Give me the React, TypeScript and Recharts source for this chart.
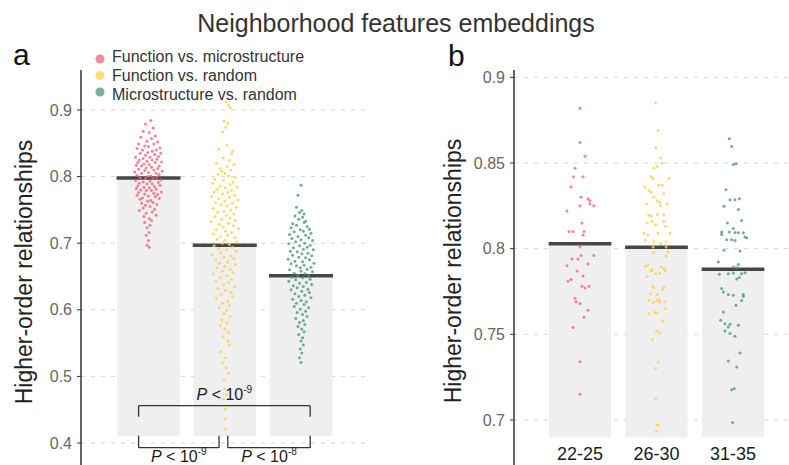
import {
  ComposedChart, Scatter, XAxis, YAxis, CartesianGrid, ReferenceArea, ReferenceLine,
} from "recharts";

const FONT = '"Liberation Sans", Arial, Helvetica, sans-serif';

const comparisonNames = ["Function vs. microstructure", "Function vs. random", "Microstructure vs. random"];
const seriesColors = ["#f2637b", "#fbd14c", "#4c9878"];
const ageGroups = ["22-25", "26-30", "31-35"];

const meansA = [0.798, 0.697, 0.651];
const meansB = [0.8029, 0.8008, 0.788];
const barBaseA = 0.41;
const barBaseB = 0.6897;
const ticksA = [0.4, 0.5, 0.6, 0.7, 0.8, 0.9];
const ticksB = [0.7, 0.75, 0.8, 0.85, 0.9];

// [jitter offset from category centre, value]
const pointsA1 = [
  [0.03, 0.884], [-0.04, 0.879], [0.06, 0.873], [-0.07, 0.868], [0.01, 0.866], [0.09, 0.861], [-0.1, 0.859], [0.04, 0.857],
  [-0.02, 0.853], [0.12, 0.852], [-0.13, 0.849], [0.07, 0.849], [-0.05, 0.846], [0.0, 0.845], [0.15, 0.843], [-0.15, 0.842],
  [0.1, 0.84], [-0.08, 0.84], [0.05, 0.838], [-0.01, 0.836], [0.16, 0.835], [-0.11, 0.835], [0.08, 0.833], [-0.04, 0.832],
  [0.13, 0.83], [-0.17, 0.829], [0.02, 0.829], [-0.07, 0.827], [0.11, 0.826], [-0.12, 0.825], [0.05, 0.825], [-0.02, 0.823],
  [0.17, 0.822], [-0.14, 0.821], [0.09, 0.821], [-0.06, 0.819], [0.01, 0.818], [-0.16, 0.817], [0.14, 0.816], [-0.09, 0.816],
  [0.04, 0.814], [-0.03, 0.813], [0.12, 0.812], [-0.13, 0.811], [0.07, 0.81], [-0.05, 0.809], [0.18, 0.808], [-0.18, 0.807],
  [0.0, 0.806], [0.1, 0.805], [-0.09, 0.805], [0.14, 0.803], [-0.15, 0.802], [0.03, 0.801], [-0.01, 0.8], [0.11, 0.799],
  [-0.11, 0.798], [0.06, 0.797], [-0.04, 0.797], [0.16, 0.795], [-0.17, 0.794], [0.02, 0.793], [-0.07, 0.792], [0.13, 0.791],
  [-0.12, 0.79], [0.05, 0.789], [-0.02, 0.789], [0.15, 0.787], [-0.14, 0.786], [0.08, 0.785], [-0.06, 0.784], [0.01, 0.783],
  [-0.16, 0.782], [0.1, 0.781], [-0.1, 0.78], [0.04, 0.779], [-0.03, 0.779], [0.17, 0.777], [-0.13, 0.776], [0.07, 0.775],
  [-0.05, 0.774], [0.12, 0.773], [-0.15, 0.772], [0.0, 0.771], [0.09, 0.77], [-0.08, 0.768], [0.14, 0.767], [-0.11, 0.766],
  [0.03, 0.764], [-0.01, 0.763], [0.06, 0.761], [-0.09, 0.76], [0.11, 0.758], [-0.04, 0.757], [0.02, 0.755], [-0.07, 0.753],
  [0.08, 0.751], [-0.12, 0.749], [0.05, 0.747], [-0.03, 0.745], [0.1, 0.742], [-0.06, 0.74], [0.01, 0.737], [0.04, 0.734],
  [-0.05, 0.731], [0.02, 0.727], [-0.02, 0.723], [0.01, 0.716], [-0.03, 0.712], [0.0, 0.704], [-0.02, 0.697], [0.01, 0.694],
];

const pointsA2 = [
  [0.02, 0.912], [0.05, 0.907], [0.07, 0.903], [-0.01, 0.883], [0.04, 0.88], [0.01, 0.874], [-0.03, 0.867], [0.03, 0.847],
  [-0.08, 0.841], [0.1, 0.838], [0.09, 0.834], [-0.02, 0.828], [0.06, 0.824], [-0.11, 0.82], [0.12, 0.818], [0.03, 0.815],
  [-0.06, 0.812], [0.08, 0.81], [-0.04, 0.808], [0.0, 0.805], [-0.09, 0.803], [0.05, 0.801], [0.14, 0.799], [-0.13, 0.796],
  [-0.02, 0.794], [0.11, 0.792], [-0.16, 0.79], [0.07, 0.788], [-0.06, 0.786], [0.16, 0.784], [0.01, 0.783], [-0.1, 0.781],
  [0.09, 0.779], [-0.14, 0.777], [0.04, 0.776], [-0.03, 0.774], [0.13, 0.772], [-0.17, 0.77], [0.06, 0.769], [-0.08, 0.767],
  [0.17, 0.765], [0.0, 0.763], [-0.12, 0.761], [0.1, 0.76], [-0.05, 0.758], [0.03, 0.756], [0.15, 0.754], [-0.15, 0.752],
  [0.08, 0.75], [-0.01, 0.748], [-0.09, 0.746], [0.12, 0.744], [0.02, 0.742], [-0.13, 0.74], [0.07, 0.738], [-0.04, 0.736],
  [0.14, 0.734], [-0.18, 0.732], [0.05, 0.73], [-0.07, 0.728], [0.11, 0.726], [-0.02, 0.724], [0.18, 0.722], [-0.11, 0.72],
  [0.01, 0.718], [0.09, 0.716], [-0.15, 0.714], [0.04, 0.712], [-0.06, 0.71], [0.13, 0.708], [-0.1, 0.706], [0.0, 0.704],
  [0.16, 0.702], [-0.03, 0.7], [0.06, 0.698], [-0.14, 0.696], [0.1, 0.694], [-0.08, 0.692], [0.02, 0.69], [0.15, 0.688],
  [-0.05, 0.686], [-0.17, 0.683], [0.08, 0.681], [-0.01, 0.679], [0.12, 0.677], [-0.12, 0.675], [0.04, 0.672], [-0.07, 0.67],
  [0.14, 0.668], [0.0, 0.665], [-0.1, 0.663], [0.07, 0.661], [-0.03, 0.658], [0.11, 0.656], [-0.15, 0.654], [0.03, 0.651],
  [-0.06, 0.648], [0.09, 0.646], [-0.12, 0.643], [0.05, 0.641], [-0.02, 0.638], [0.13, 0.635], [-0.09, 0.632], [0.01, 0.629],
  [0.08, 0.626], [-0.05, 0.623], [0.1, 0.62], [-0.11, 0.617], [0.04, 0.613], [-0.03, 0.61], [0.06, 0.606], [-0.07, 0.603],
  [0.02, 0.599], [-0.01, 0.594], [0.07, 0.59], [-0.04, 0.585], [0.03, 0.58], [-0.06, 0.576], [0.0, 0.571], [0.05, 0.566],
  [-0.02, 0.559], [0.04, 0.553], [0.06, 0.547], [-0.05, 0.537], [0.01, 0.528], [-0.03, 0.521], [0.02, 0.513], [0.05, 0.505],
  [-0.01, 0.495], [0.0, 0.481], [0.02, 0.473], [-0.02, 0.466], [0.01, 0.451], [0.0, 0.436], [0.01, 0.421],
];

const pointsA3 = [
  [0.0, 0.787], [-0.04, 0.772], [-0.06, 0.754], [0.01, 0.749], [-0.02, 0.746], [0.04, 0.744], [-0.08, 0.741], [0.02, 0.739],
  [-0.03, 0.736], [0.06, 0.733], [0.04, 0.731], [-0.11, 0.729], [-0.06, 0.727], [0.08, 0.725], [-0.13, 0.723], [0.11, 0.721],
  [-0.01, 0.72], [0.03, 0.718], [-0.09, 0.717], [0.13, 0.715], [-0.15, 0.713], [0.06, 0.712], [-0.04, 0.71], [0.1, 0.708],
  [-0.12, 0.707], [0.0, 0.705], [0.15, 0.704], [-0.07, 0.702], [0.05, 0.7], [-0.16, 0.699], [0.12, 0.697], [-0.02, 0.696],
  [0.08, 0.694], [-0.1, 0.693], [0.03, 0.691], [0.16, 0.69], [-0.14, 0.688], [-0.05, 0.687], [0.09, 0.685], [0.01, 0.684],
  [-0.11, 0.682], [0.14, 0.681], [-0.03, 0.679], [0.06, 0.678], [-0.17, 0.676], [0.11, 0.675], [-0.08, 0.673], [0.02, 0.672],
  [0.17, 0.67], [-0.13, 0.669], [0.04, 0.667], [-0.06, 0.666], [0.13, 0.664], [-0.01, 0.663], [0.08, 0.661], [-0.15, 0.66],
  [0.0, 0.658], [0.15, 0.657], [-0.09, 0.655], [0.05, 0.654], [-0.04, 0.652], [0.1, 0.651], [-0.12, 0.649], [0.02, 0.648],
  [0.12, 0.646], [-0.07, 0.645], [-0.16, 0.643], [0.07, 0.641], [-0.02, 0.64], [0.14, 0.638], [-0.1, 0.636], [0.03, 0.635],
  [-0.05, 0.633], [0.09, 0.631], [-0.13, 0.63], [0.01, 0.628], [0.11, 0.626], [-0.08, 0.624], [0.05, 0.622], [-0.03, 0.62],
  [0.13, 0.618], [-0.11, 0.616], [0.0, 0.614], [0.07, 0.612], [-0.06, 0.61], [0.04, 0.608], [-0.09, 0.605], [0.1, 0.603],
  [-0.01, 0.601], [0.06, 0.598], [-0.05, 0.596], [0.02, 0.593], [0.08, 0.59], [-0.07, 0.587], [0.03, 0.584], [-0.02, 0.581],
  [0.05, 0.578], [-0.04, 0.575], [0.01, 0.571], [0.04, 0.567], [-0.03, 0.563], [0.02, 0.558], [0.0, 0.553], [0.03, 0.547],
  [-0.01, 0.541], [0.01, 0.535], [-0.02, 0.528], [0.0, 0.521],
];

const pointsB1 = [
  [0.0, 0.882], [0.0, 0.862], [0.065, 0.854], [-0.065, 0.847], [0.04, 0.842], [-0.087, 0.842], [-0.118, 0.836], [0.013, 0.83],
  [0.105, 0.829], [0.13, 0.828], [0.0, 0.825], [0.13, 0.826], [0.18, 0.825], [-0.17, 0.822], [-0.144, 0.81], [-0.092, 0.81],
  [0.052, 0.81], [0.026, 0.815], [0.04, 0.808], [0.0, 0.801], [-0.17, 0.79], [-0.105, 0.794], [-0.026, 0.794], [0.105, 0.791],
  [0.013, 0.796], [0.18, 0.796], [-0.039, 0.787], [-0.157, 0.781], [-0.118, 0.782], [0.039, 0.784], [0.026, 0.778], [0.065, 0.777],
  [0.118, 0.778], [-0.065, 0.771], [-0.052, 0.769], [0.0, 0.768], [0.105, 0.764], [0.052, 0.76], [-0.092, 0.754], [0.0, 0.734],
  [0.0, 0.715],
];

const pointsB2 = [
  [-0.013, 0.885], [0.022, 0.869], [-0.009, 0.859], [0.052, 0.853], [0.074, 0.85], [-0.035, 0.847], [0.009, 0.848], [0.161, 0.841],
  [-0.069, 0.842], [-0.048, 0.841], [-0.153, 0.836], [-0.1, 0.834], [-0.069, 0.833], [0.031, 0.837], [0.074, 0.837], [0.096, 0.832],
  [-0.035, 0.83], [0.009, 0.828], [0.044, 0.827], [-0.131, 0.826], [0.139, 0.826], [0.052, 0.825], [-0.1, 0.8195], [-0.069, 0.819],
  [0.009, 0.82], [0.096, 0.82], [-0.057, 0.816], [0.096, 0.816], [-0.013, 0.814], [0.118, 0.813], [-0.122, 0.815], [-0.165, 0.809],
  [-0.113, 0.808], [0.018, 0.809], [0.174, 0.809], [-0.144, 0.805], [-0.035, 0.804], [0.126, 0.804], [-0.044, 0.801], [0.052, 0.803],
  [0.126, 0.801], [0.152, 0.798], [-0.035, 0.7975], [0.13, 0.7955], [-0.144, 0.7897], [-0.113, 0.7905], [-0.057, 0.7877], [-0.07, 0.787],
  [0.061, 0.7893], [0.096, 0.7883], [0.118, 0.7873], [-0.013, 0.7854], [-0.122, 0.7838], [0.044, 0.7856], [-0.052, 0.778], [-0.035, 0.7772],
  [0.096, 0.7775], [-0.078, 0.7737], [0.009, 0.7733], [0.074, 0.776], [-0.1, 0.7698], [0.0, 0.7695], [0.031, 0.7702], [0.109, 0.769],
  [-0.044, 0.7685], [0.044, 0.7688], [0.118, 0.765], [-0.022, 0.7627], [0.0, 0.7625], [-0.1, 0.762], [0.083, 0.7576], [0.0, 0.7518],
  [0.044, 0.7507], [-0.052, 0.747], [0.022, 0.734], [-0.013, 0.73], [-0.013, 0.7125], [0.009, 0.697], [0.022, 0.697], [0.0, 0.6935],
];

const pointsB3 = [
  [-0.048, 0.8642], [-0.017, 0.8597], [0.004, 0.8492], [0.039, 0.8496], [-0.092, 0.8344], [-0.039, 0.8286], [0.026, 0.8286], [0.083, 0.8292],
  [-0.118, 0.8247], [0.07, 0.8228], [0.113, 0.8165], [-0.074, 0.815], [-0.148, 0.8097], [-0.148, 0.8082], [-0.048, 0.8097], [0.004, 0.8117],
  [0.026, 0.8095], [0.07, 0.8093], [0.135, 0.8093], [0.157, 0.8068], [0.179, 0.8064], [-0.083, 0.8052], [-0.017, 0.8052], [0.026, 0.8048],
  [-0.118, 0.799], [0.092, 0.7986], [-0.192, 0.7922], [0.07, 0.7908], [0.004, 0.7893], [0.048, 0.7889], [-0.179, 0.785], [-0.061, 0.7854],
  [0.004, 0.7858], [0.113, 0.7854], [0.157, 0.786], [0.083, 0.7831], [0.048, 0.7823], [-0.148, 0.7767], [-0.126, 0.7747], [-0.061, 0.7733],
  [0.004, 0.7728], [0.135, 0.7733], [0.135, 0.7722], [0.113, 0.7698], [0.039, 0.7669], [-0.126, 0.763], [-0.161, 0.7582], [-0.105, 0.7562],
  [-0.039, 0.7558], [-0.061, 0.7543], [0.07, 0.7553], [-0.105, 0.7519], [-0.039, 0.7504], [0.026, 0.7488], [0.092, 0.7391], [-0.061, 0.7344],
  [0.048, 0.7309], [-0.017, 0.7177], [0.017, 0.7183], [-0.004, 0.6985],
];

// significance brackets in panel a, in data units
const brackets = [
  { x1: 0.87, x2: 3.12, y: 0.456, tip: 0.4395, exp: "-9" },
  { x1: 0.87, x2: 1.925, y: 0.393, tip: 0.411, exp: "-9" },
  { x1: 2.04, x2: 3.12, y: 0.393, tip: 0.411, exp: "-8" },
];

const toXY = (cat: number, pts: number[][]) => pts.map(([dx, v]) => ({ x: cat + dx, y: v }));

const dot = (color: string) => (props: any) => (
  <circle cx={props.cx} cy={props.cy} r={1.5} fill={color} fillOpacity={0.8} />
);

function PLabel({ viewBox, exp, above }: any) {
  if (!viewBox) return null;
  const cx = viewBox.x + viewBox.width / 2;
  const y = above ? viewBox.y - 6 : viewBox.y + 14;
  return (
    <text x={cx} y={y} textAnchor="middle" fontSize={16} fill="#1a1a1a" fontFamily={FONT}>
      <tspan fontStyle="italic">P</tspan>
      <tspan> &lt; 10</tspan>
      <tspan dy={-7} fontSize={10}>{exp}</tspan>
    </text>
  );
}

const axisTick = { fontSize: 16, fill: "#666", fontFamily: FONT };
const gridStroke = "#d6d6d6";

export default function App() {
  const groupsA = [pointsA1, pointsA2, pointsA3];
  const groupsB = [pointsB1, pointsB2, pointsB3];

  return (
    <div style={{ position: "absolute", left: 0, top: 0, width: 789, height: 465, background: "#fff", fontFamily: FONT }}>
      <div style={{ position: "absolute", left: 0, top: 0 }}>
        <ComposedChart width={400} height={465} margin={{ top: 70, right: 33, bottom: 0, left: 0 }}>
          <CartesianGrid vertical={false} horizontalValues={ticksA} stroke={gridStroke} strokeDasharray="4 6" />
          <XAxis type="number" dataKey="x" domain={[0.115, 3.865]} hide allowDataOverflow />
          <YAxis
            type="number"
            dataKey="y"
            domain={[0.367, 0.96]}
            ticks={ticksA}
            allowDataOverflow
            width={81}
            tick={axisTick}
            tickSize={4}
            tickMargin={5}
            tickLine={{ stroke: "#333" }}
            axisLine={{ stroke: "#333", strokeWidth: 1.5 }}
          />
          {meansA.map((m, i) => (
            <ReferenceArea key={`bar-a-${i}`} x1={i + 1 - 0.41} x2={i + 1 + 0.41} y1={barBaseA} y2={m} fill="#efefef" fillOpacity={1} stroke="none" />
          ))}
          {groupsA.map((pts, i) => (
            <Scatter key={`sc-a-${i}`} name={comparisonNames[i]} data={toXY(i + 1, pts)} fill={seriesColors[i]} shape={dot(seriesColors[i])} isAnimationActive={false} />
          ))}
          {meansA.map((m, i) => (
            <ReferenceLine key={`mean-a-${i}`} segment={[{ x: i + 1 - 0.42, y: m }, { x: i + 1 + 0.42, y: m }]} stroke="#464646" strokeWidth={3.5} />
          ))}
          {brackets.flatMap((b, i) => [
            <ReferenceLine key={`br-h-${i}`} segment={[{ x: b.x1, y: b.y }, { x: b.x2, y: b.y }]} stroke="#333" strokeWidth={1.3}
              label={<PLabel exp={b.exp} above={b.tip < b.y} />} />,
            <ReferenceLine key={`br-l-${i}`} segment={[{ x: b.x1, y: b.y }, { x: b.x1, y: b.tip }]} stroke="#333" strokeWidth={1.3} />,
            <ReferenceLine key={`br-r-${i}`} segment={[{ x: b.x2, y: b.y }, { x: b.x2, y: b.tip }]} stroke="#333" strokeWidth={1.3} />,
          ])}
        </ComposedChart>
      </div>

      <div style={{ position: "absolute", left: 400, top: 0 }}>
        <ComposedChart width={389} height={465} margin={{ top: 70, right: 0, bottom: 0, left: 0 }}>
          <CartesianGrid vertical={false} horizontalValues={ticksB} stroke={gridStroke} strokeDasharray="4 6" />
          <XAxis
            type="number"
            dataKey="x"
            domain={[0.137, 3.732]}
            allowDataOverflow
            ticks={[1, 2, 3]}
            tickFormatter={(v: number) => ageGroups[v - 1] ?? ""}
            mirror
            axisLine={false}
            tickLine={false}
            tickSize={0}
            tickMargin={5}
            tick={{ fontSize: 18, fill: "#1a1a1a", fontFamily: FONT }}
          />
          <YAxis
            type="number"
            dataKey="y"
            domain={[0.6737, 0.9043]}
            ticks={ticksB}
            allowDataOverflow
            width={114}
            tick={axisTick}
            tickSize={4}
            tickMargin={5}
            tickLine={{ stroke: "#333" }}
            axisLine={{ stroke: "#333", strokeWidth: 1.5 }}
          />
          {meansB.map((m, i) => (
            <ReferenceArea key={`bar-b-${i}`} x1={i + 1 - 0.405} x2={i + 1 + 0.405} y1={barBaseB} y2={m} fill="#efefef" fillOpacity={1} stroke="none" />
          ))}
          {groupsB.map((pts, i) => (
            <Scatter key={`sc-b-${i}`} name={ageGroups[i]} data={toXY(i + 1, pts)} fill={seriesColors[i]} shape={dot(seriesColors[i])} isAnimationActive={false} />
          ))}
          {meansB.map((m, i) => (
            <ReferenceLine key={`mean-b-${i}`} segment={[{ x: i + 1 - 0.41, y: m }, { x: i + 1 + 0.41, y: m }]} stroke="#464646" strokeWidth={3.5} />
          ))}
        </ComposedChart>
      </div>

      <svg width={789} height={465} style={{ position: "absolute", left: 0, top: 0, pointerEvents: "none" }} fontFamily={FONT}>
        <text x={396} y={32} textAnchor="middle" fontSize={25} fill="#333">Neighborhood features embeddings</text>
        <text x={13} y={65} fontSize={30} fill="#111">a</text>
        <text x={448} y={66} fontSize={30} fill="#111">b</text>
        <text transform="translate(32 272) rotate(-90)" textAnchor="middle" fontSize={23} fill="#222">Higher-order relationships</text>
        <text transform="translate(461 271) rotate(-90)" textAnchor="middle" fontSize={23} fill="#222">Higher-order relationships</text>
        {comparisonNames.map((name, i) => (
          <g key={name}>
            <circle cx={100} cy={59 + i * 16.5} r={4.5} fill={seriesColors[i]} fillOpacity={0.75} />
            <text x={112} y={61.7 + i * 19.3} fontSize={16} fill="#333">{name}</text>
          </g>
        ))}
      </svg>
    </div>
  );
}
